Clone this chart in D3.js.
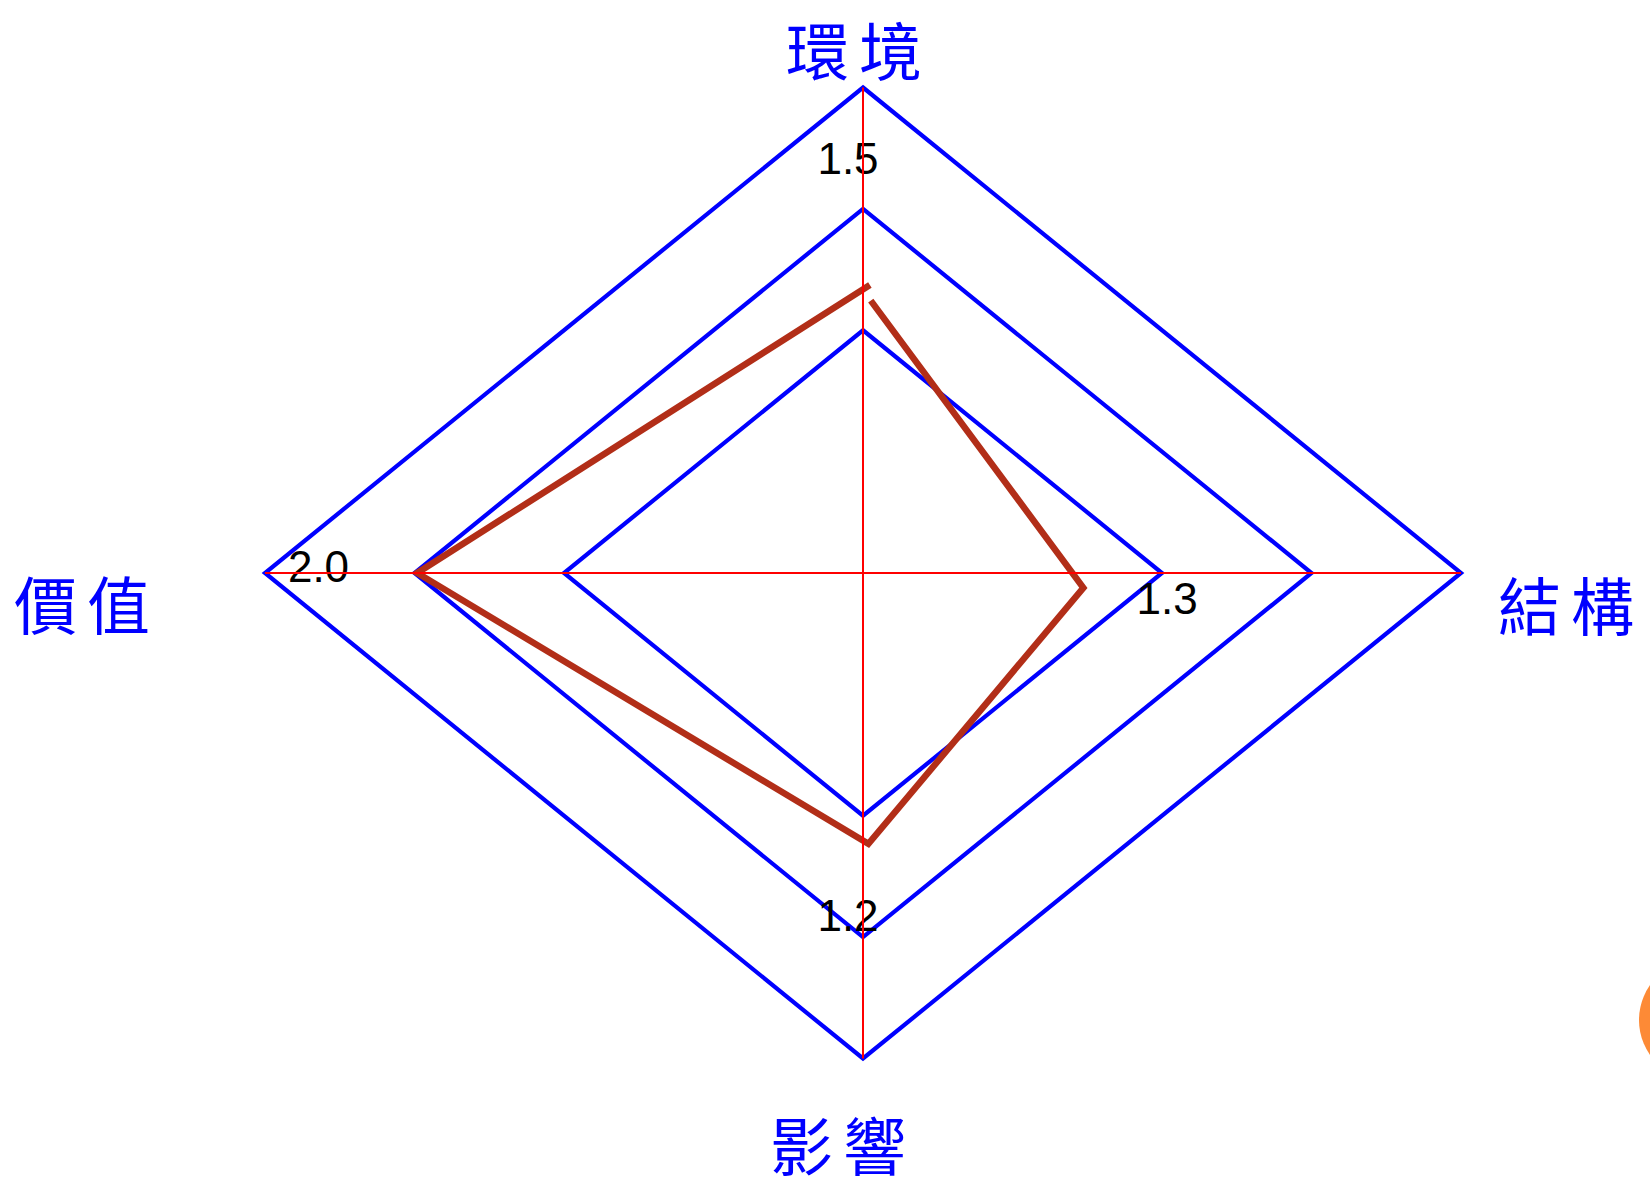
<!DOCTYPE html>
<html>
<head>
<meta charset="utf-8">
<script src="https://cdn.jsdelivr.net/npm/d3@7"></script>
<style>
  html, body { margin: 0; padding: 0; background: #fff; }
  svg { display: block; }
</style>
</head>
<body>
<svg id="chart" width="1650" height="1187"></svg>
<script>
// ---- data ----
const categories = ["環境", "結構", "影響", "價值"];        // top, right, bottom, left
const gridLevels = [1.0, 1.5, 2.0];
const maxValue = 2.0;
// drawn series (open polyline), as [x, y] in chart value units
const seriesX = [0.026, 0.737, 0.018, -1.491, 0.023];
const seriesY = [1.122, -0.061, -1.116, 0.0, 1.186];
// value labels and where they sit along their axis (value units)
const valueLabels = ["1.5", "1.3", "1.2", "2.0"];
const valueLabelAt = [1.707, 1.017, 1.409, 1.821];

// ---- layout ----
const svg = d3.select("#chart");
const x = d3.scaleLinear().domain([-maxValue, maxValue]).range([265, 1461]);
const y = d3.scaleLinear().domain([-maxValue, maxValue]).range([1058.5, 87.5]);
const dirs = [[0, 1], [1, 0], [0, -1], [-1, 0]];

// decorative orange circle at right edge
svg.append("circle").attr("cx", 1700).attr("cy", 1020).attr("r", 61).attr("fill", "#FD8A36");

// grid diamonds
const line = d3.line().x(d => x(d[0])).y(d => y(d[1]));
svg.append("g").selectAll("path").data(gridLevels).join("path")
  .attr("d", v => line(dirs.map(d => [d[0] * v, d[1] * v])) + "Z")
  .attr("fill", "none").attr("stroke", "#0000FF").attr("stroke-width", 4.2)
  .attr("stroke-linejoin", "miter").attr("stroke-miterlimit", 10);

// series polyline
const pts = seriesX.map((v, i) => [v, seriesY[i]]);
svg.append("path").attr("d", line(pts))
  .attr("fill", "none").attr("stroke", "#B22E18").attr("stroke-width", 6.5)
  .attr("stroke-linejoin", "miter").attr("stroke-miterlimit", 10);

// value labels
const labelOffsets = [[-15, 0], [0, 25], [-15, 0], [0, -7]];
svg.append("g").selectAll("text").data(valueLabels).join("text")
  .attr("x", (t, i) => x(dirs[i][0] * valueLabelAt[i]) + labelOffsets[i][0])
  .attr("y", (t, i) => y(dirs[i][1] * valueLabelAt[i]) + labelOffsets[i][1])
  .attr("text-anchor", "middle").attr("dominant-baseline", "central")
  .attr("font-family", "'Liberation Sans', Arial, sans-serif")
  .attr("font-size", 44).attr("fill", "#000")
  .text(t => t);

// axes (red, on top)
svg.append("g").selectAll("line").data(dirs).join("line")
  .attr("x1", x(0)).attr("y1", y(0))
  .attr("x2", d => x(d[0] * maxValue)).attr("y2", d => y(d[1] * maxValue))
  .attr("stroke", "#FF0000").attr("stroke-width", 2);

// category labels
const spacing = 10;
const catOffsets = [[-4, -40], [110, 29], [-20, 84], [-178, 28]];
svg.append("g").selectAll("text").data(categories).join("text")
  .attr("x", (t, i) => x(dirs[i][0] * maxValue) + catOffsets[i][0])
  .attr("y", (t, i) => y(dirs[i][1] * maxValue) + catOffsets[i][1])
  .attr("text-anchor", "middle").attr("dominant-baseline", "central")
  .attr("font-family", "'Noto Sans CJK TC', 'Noto Sans CJK SC', sans-serif")
  .attr("font-size", 63).attr("letter-spacing", spacing).attr("fill", "#0000FF")
  .text(t => t);
</script>
</body>
</html>
